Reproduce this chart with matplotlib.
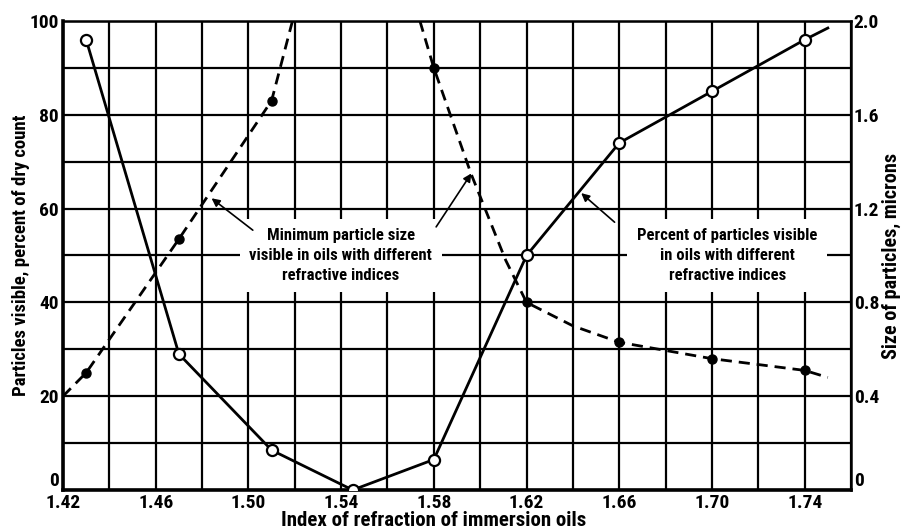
import numpy as np
import matplotlib
matplotlib.use('Agg')
import matplotlib.pyplot as plt

plt.rcParams['font.family'] = ['Roboto Condensed', 'DejaVu Sans']
plt.rcParams['font.weight'] = 'bold'

# ── Percent of particles visible (left axis) ──
pct_x = [1.43, 1.47, 1.51, 1.545, 1.58, 1.62, 1.66, 1.70, 1.74]
pct_y = [96, 29, 8.5, 0, 6.5, 50, 74, 85, 96]
pct_tail_x = [1.74, 1.75]
pct_tail_y = [96, 98.5]

# ── Minimum particle size visible (right axis, microns) ──
size_x = [1.43, 1.47, 1.51, 1.58, 1.62, 1.66, 1.70, 1.74]
size_y = [0.50, 1.07, 1.66, 1.80, 0.80, 0.63, 0.56, 0.51]
# curve (left and right branches)
size_left_x = [1.42, 1.43, 1.47, 1.51, 1.519]
size_left_y = [0.40, 0.50, 1.07, 1.66, 2.0]
size_right_x = [1.574, 1.58, 1.596, 1.611, 1.62, 1.64, 1.66, 1.70, 1.74, 1.75]
size_right_y = [2.0, 1.80, 1.35, 0.98, 0.80, 0.70, 0.63, 0.56, 0.51, 0.48]

x_ticks = [1.42, 1.46, 1.50, 1.54, 1.58, 1.62, 1.66, 1.70, 1.74]
y_ticks = [0, 20, 40, 60, 80, 100]
y2_ticks = [0, 0.4, 0.8, 1.2, 1.6, 2.0]
y2_labels = ["0", "0.4", "0.8", "1.2", "1.6", "2.0"]

fig = plt.figure(figsize=(9.01, 5.30), dpi=100)
ax = fig.add_axes([63/901, 1 - 490/530, (851 - 63)/901, (490 - 21)/530])
ax2 = ax.twinx()

ax.set_xlim(1.42, 1.76)
ax.set_ylim(0, 100)
ax2.set_ylim(0, 2.0)

ax.set_xticks(x_ticks)
ax.set_xticklabels([f"{v:.2f}" for v in x_ticks])
ax.set_xticks(np.arange(1.44, 1.76, 0.04), minor=True)
ax.set_yticks(y_ticks)
ax.set_yticklabels([str(v) for v in y_ticks])
ax.set_yticks(np.arange(10, 100, 20), minor=True)
ax2.set_yticks(y2_ticks)
ax2.set_yticklabels(y2_labels)

ax.set_axisbelow(True)
ax.grid(True, which='both', color='black', linewidth=1.6)
ax.tick_params(which='both', length=0, labelsize=14, pad=3)
ax2.tick_params(which='both', length=0, labelsize=14, pad=2)
# the zero labels sit just above the bottom line
ax.get_yticklabels()[0].set_va('bottom')
ax2.get_yticklabels()[0].set_va('bottom')

for s in ['left', 'bottom']:
    ax.spines[s].set_linewidth(2.6)
for s in ['top', 'right']:
    ax.spines[s].set_linewidth(1.8)
for s in ax2.spines.values():
    s.set_visible(False)

ax.set_xlabel("Index of refraction of immersion oils", fontsize=15,
              fontweight='bold')
ax.xaxis.set_label_coords(0.47, -0.045)
ax.set_ylabel("Particles visible, percent of dry count", fontsize=13.5,
              fontweight='bold')
ax.yaxis.set_label_coords(-0.042, 0.5)
ax2.set_ylabel("Size of particles, microns", fontsize=14.5,
               fontweight='bold')
ax2.yaxis.set_label_coords(1.039, 0.5)

# solid curve with open circles
ax.plot(pct_x, pct_y, color='black', linewidth=2, zorder=4)
ax.plot(pct_tail_x, pct_tail_y, color='black', linewidth=2, zorder=4)
ax.plot(pct_x, pct_y, linestyle='none', marker='o', markersize=8,
        markerfacecolor='white', markeredgecolor='black',
        markeredgewidth=1.6, zorder=5)

# dashed curve with filled dots
for xs, ys in [(size_left_x, size_left_y), (size_right_x, size_right_y)]:
    ax2.plot(xs, ys, color='black', linewidth=2, dashes=(4, 2.5))
ax2.plot(size_x, size_y, linestyle='none', marker='o', markersize=6.5,
         color='black')

# annotations (white box hides the grid behind the words)
box = dict(facecolor='white', edgecolor='none', pad=7)
ax.text(1.5398, 50, "Minimum particle size\nvisible in oils with different\nrefractive indices",
        ha='center', va='center', fontsize=12, fontweight='bold',
        linespacing=1.4, bbox=box, zorder=3)
ax.text(1.7066, 50, "Percent of particles visible\nin oils with different\nrefractive indices",
        ha='center', va='center', fontsize=12, fontweight='bold',
        linespacing=1.4, bbox=box, zorder=3)

arrow = dict(arrowstyle='-|>', color='black', lw=1.2, mutation_scale=12,
             shrinkA=0, shrinkB=0)
ax.annotate("", xy=(1.4841, 62.2), xytext=(1.5019, 55.4), arrowprops=arrow, zorder=6)
ax.annotate("", xy=(1.5962, 67.5), xytext=(1.581, 56.1), arrowprops=arrow, zorder=6)
ax.annotate("", xy=(1.6436, 63.3), xytext=(1.658, 57.1), arrowprops=arrow, zorder=6)

plt.savefig("out.png", dpi=100)
plt.close()
